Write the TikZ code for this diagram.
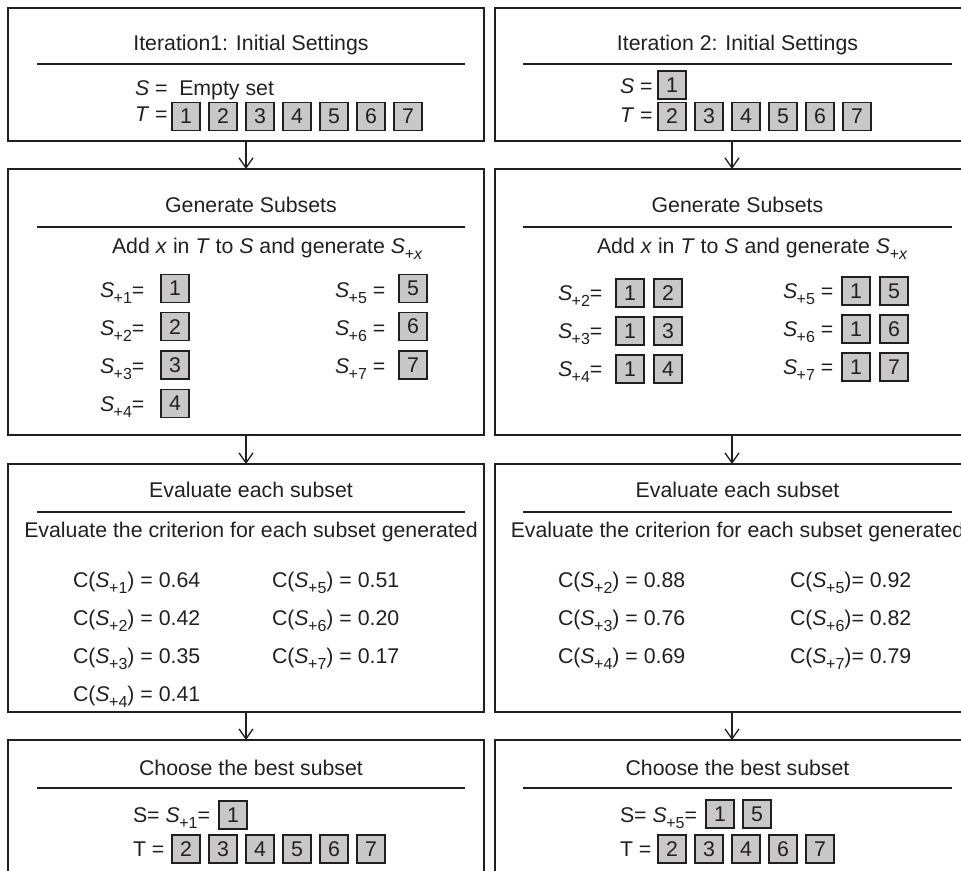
\documentclass[tikz,border=0pt]{standalone}
\usepackage{fontspec}
\setmainfont{Liberation Sans}
\usetikzlibrary{arrows.meta}
\definecolor{ink}{HTML}{231F20}
\definecolor{boxfill}{HTML}{C8C8C8}
\newcommand{\Sb}[1]{\textit{S}\kern-0.5pt\raisebox{-6pt}{\fontsize{16}{16}\selectfont #1}}
\begin{document}
\begin{tikzpicture}[x=1pt,y=-1pt,
  every node/.style={text=ink, font=\fontsize{21.3}{24}\selectfont, inner sep=0pt, outer sep=0pt},
  frame/.style={draw=ink, line width=2pt},
  gbox/.style={draw=ink, fill=boxfill, line width=1.4pt, minimum width=28pt, minimum height=28pt},
  hrule/.style={draw=ink, line width=2pt},
  arr/.style={draw=ink, line width=1.3pt, -{Straight Barb[length=10pt,width=14pt]}},
  lbl/.style={anchor=base west},
  ttl/.style={anchor=base}]
\useasboundingbox (0,0) rectangle (961,870);
\clip (0,0) rectangle (961,870);

% frames
\node[frame, minimum width=476pt, minimum height=133pt] (L1) at (246,74.5) {};
\node[frame, minimum width=474pt, minimum height=133pt] (R1) at (732,74.5) {};
\node[frame, minimum width=476pt, minimum height=266pt] (L2) at (246,302) {};
\node[frame, minimum width=474pt, minimum height=266pt] (R2) at (732,302) {};
\node[frame, minimum width=476pt, minimum height=248pt] (L3) at (246,588) {};
\node[frame, minimum width=474pt, minimum height=248pt] (R3) at (732,588) {};
\node[frame, minimum width=476pt, minimum height=160pt] (L4) at (246,820) {};
\node[frame, minimum width=474pt, minimum height=160pt] (R4) at (732,820) {};

% arrows
\draw[arr] (L1.south) -- (L2.north);
\draw[arr] (L2.south) -- (L3.north);
\draw[arr] (L3.south) -- (L4.north);
\draw[arr] (R1.south) -- (R2.north);
\draw[arr] (R2.south) -- (R3.north);
\draw[arr] (R3.south) -- (R4.north);

% header rules
\foreach \y in {64,227,512,788} {
  \draw[hrule] (37,\y) -- (465,\y);
  \draw[hrule] (523,\y) -- (952,\y);
}

% titles
\node[ttl] (t1l) at (251,50) {Iteration1: Initial Settings};
\node[ttl] (t1r) at (737.5,50) {Iteration 2: Initial Settings};
\node[ttl] (t2l) at (251,212) {Generate Subsets};
\node[ttl] (t2r) at (737.5,212) {Generate Subsets};
\node[ttl] (t3l) at (251,497) {Evaluate each subset};
\node[ttl] (t3r) at (737.5,497) {Evaluate each subset};
\node[ttl] (t4l) at (251,775) {Choose the best subset};
\node[ttl] (t4r) at (737.5,775) {Choose the best subset};

% row 1 left
\node[lbl] (s1l) at (135,95) {\textit{S} =\hspace{0.55em}Empty set};
\node[lbl] (u1l) at (135,121) {\textit{T} =};
\foreach \n [count=\i from 0] in {1,...,7}
  \node[gbox] (b1l\n) at ({186+37*\i},116.5) {\n};
% row 1 right
\node[lbl] (s1r) at (620,93) {\textit{S} =};
\node[gbox] (b1rs) at (672,85) {1};
\node[lbl] (u1r) at (620,122) {\textit{T} =};
\foreach \n [count=\i from 0] in {2,...,7}
  \node[gbox] (b1r\n) at ({672+37*\i},116.5) {\n};

% row 2 left
\node[lbl] (a2l) at (112,253) {Add \textit{x} in \textit{T} to \textit{S} and generate \Sb{\textit{+x}}};
\foreach \k in {1,...,4} {
  \node[lbl] (e2l\k) at (100,{297+38.3*(\k-1)}) {\Sb{+\k}=};
  \node[gbox] (b2l\k) at (175,{288.3+38.3*(\k-1)}) {\k};
}
\foreach \k in {5,6,7} {
  \node[lbl] (e2l\k) at (335,{297+38.3*(\k-5)}) {\Sb{+\k} =};
  \node[gbox] (b2l\k) at (413,{288.3+38.3*(\k-5)}) {\k};
}
% row 2 right
\node[lbl] (a2r) at (597,253) {Add \textit{x} in \textit{T} to \textit{S} and generate \Sb{\textit{+x}}};
\foreach \k [count=\j from 0] in {2,3,4} {
  \node[lbl] (e2r\k) at (558,{300+38*\j}) {\Sb{+\k}=};
  \node[gbox] (c2r\k) at (630,{293+38*\j}) {1};
  \node[gbox] (b2r\k) at (668,{293+38*\j}) {\k};
}
\foreach \k [count=\j from 0] in {5,6,7} {
  \node[lbl] (e2r\k) at (783,{298+38*\j}) {\Sb{+\k} =};
  \node[gbox] (c2r\k) at (856,{291+38*\j}) {1};
  \node[gbox] (b2r\k) at (894,{291+38*\j}) {\k};
}

% row 3
\node[ttl] (d3l) at (251,537) {Evaluate the criterion for each subset generated};
\node[ttl] (d3r) at (737.5,537) {Evaluate the criterion for each subset generated};
\foreach \k/\v [count=\j from 0] in {1/0.64,2/0.42,3/0.35,4/0.41}
  \node[lbl] (v3l\k) at (73,{587+38.3*\j}) {C(\Sb{+\k}) = \v};
\foreach \k/\v [count=\j from 0] in {5/0.51,6/0.20,7/0.17}
  \node[lbl] (v3l\k) at (272,{587+38.3*\j}) {C(\Sb{+\k}) = \v};
\foreach \k/\v [count=\j from 0] in {2/0.88,3/0.76,4/0.69}
  \node[lbl] (v3r\k) at (558,{587+38*\j}) {C(\Sb{+\k}) = \v};
\foreach \k/\v [count=\j from 0] in {5/0.92,6/0.82,7/0.79}
  \node[lbl] (v3r\k) at (790,{587+38*\j}) {C(\Sb{+\k})= \v};

% row 4 left
\node[lbl] (s4l) at (133,822) {S= \Sb{+1}=};
\node[gbox] (b4ls) at (233,815) {1};
\node[lbl] (u4l) at (133,856) {T =};
\foreach \n [count=\i from 0] in {2,...,7}
  \node[gbox] (b4l\n) at ({186+37*\i},849) {\n};
% row 4 right
\node[lbl] (s4r) at (620,822) {S= \Sb{+5}=};
\node[gbox] (b4rs1) at (720,814) {1};
\node[gbox] (b4rs5) at (757,814) {5};
\node[lbl] (u4r) at (620,856) {T =};
\foreach \n [count=\i from 0] in {2,3,4,6,7}
  \node[gbox] (b4r\n) at ({672+37*\i},849) {\n};
\end{tikzpicture}
\end{document}
